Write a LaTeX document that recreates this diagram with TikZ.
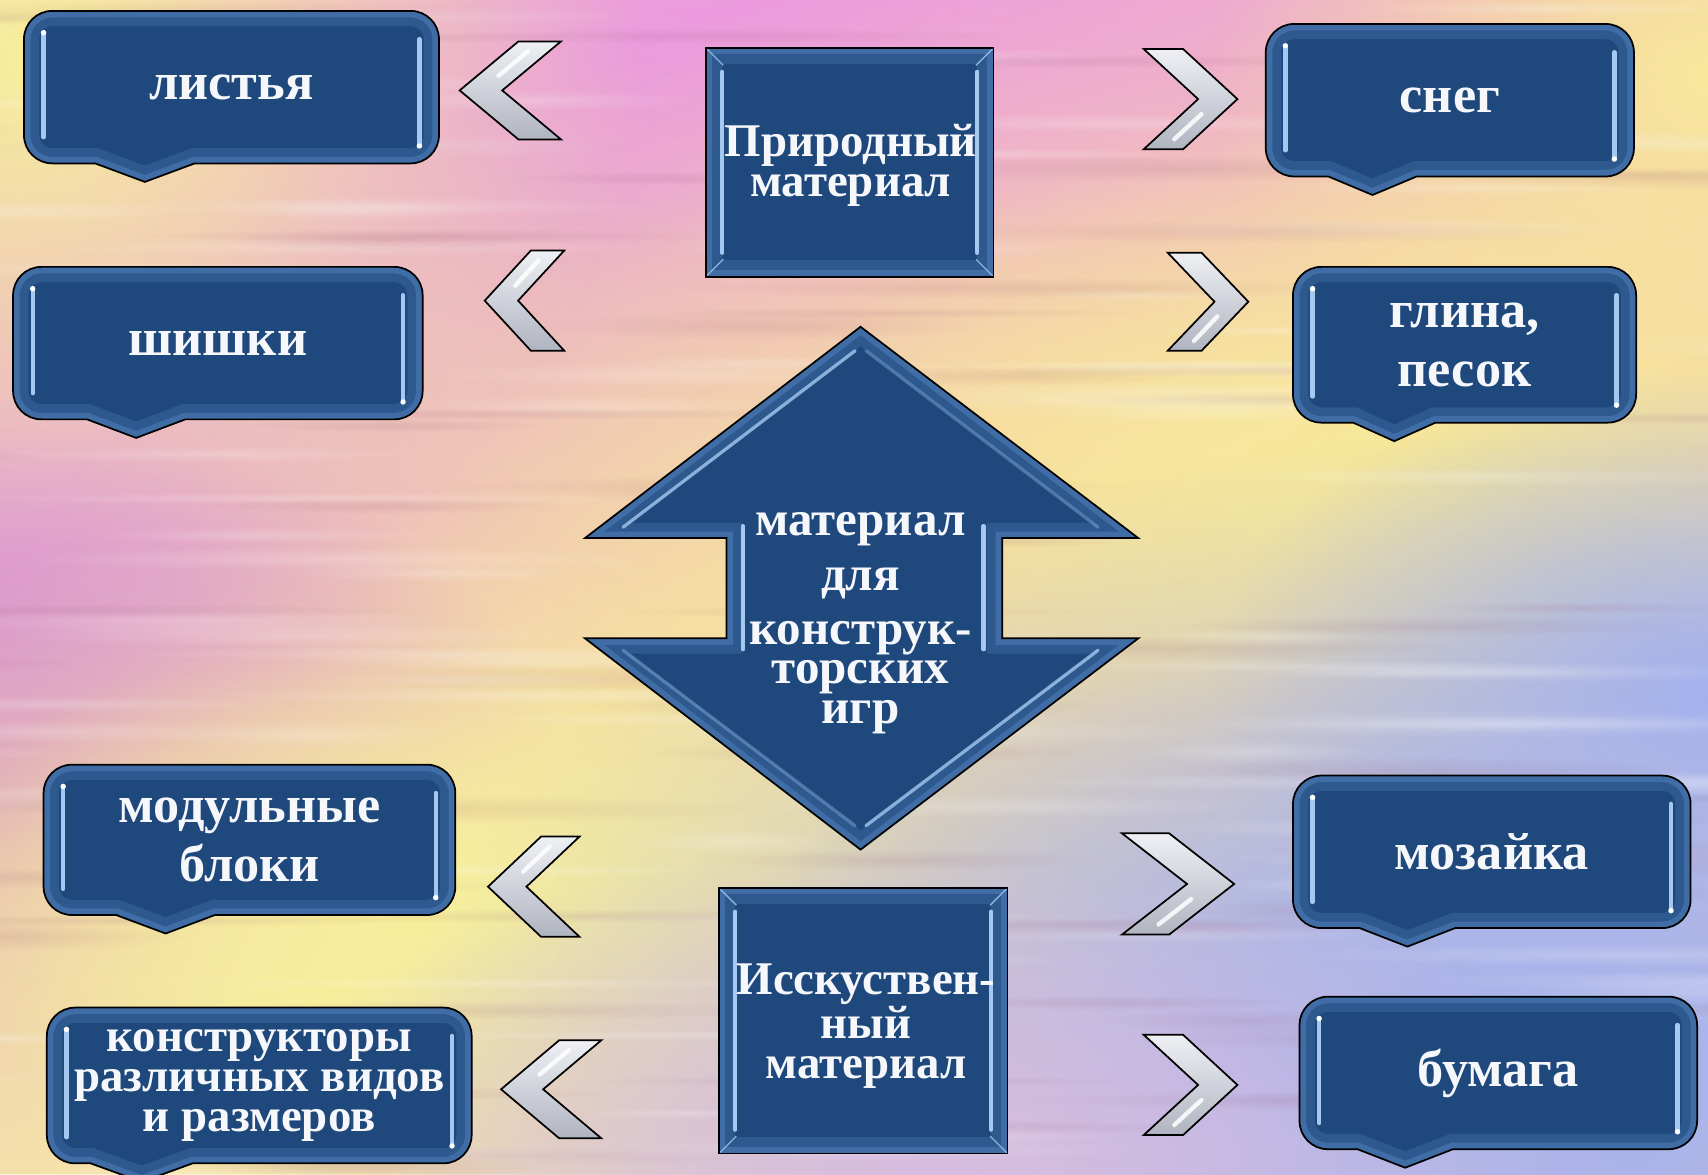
\documentclass[tikz,border=0pt]{standalone}
\usepackage{fontspec}
\setmainfont{Liberation Serif}
\usetikzlibrary{fadings}
\definecolor{cb}{HTML}{1F497D}
\definecolor{rim}{HTML}{5B8BC6}
\definecolor{hl}{HTML}{A4C8F0}
\definecolor{chA}{HTML}{EEF0F4}
\definecolor{chM}{HTML}{D2D5DC}
\definecolor{chB}{HTML}{B0B4C0}
\definecolor{txtc}{HTML}{F5F7FB}
\definecolor{bgbase}{HTML}{F2CDBE}
\definecolor{bgY}{HTML}{F8F09C}
\definecolor{bgP}{HTML}{EC98E2}
\definecolor{bgP2}{HTML}{E6A2D6}
\definecolor{bgM}{HTML}{D284D2}
\definecolor{bgY2}{HTML}{F8E89A}
\definecolor{bgB}{HTML}{9FB0F2}
\definecolor{bgB2}{HTML}{A8B4EC}
\definecolor{bgL}{HTML}{D8BCE0}
\definecolor{bgPe}{HTML}{F6DCA6}
\definecolor{bgPk}{HTML}{F4C2BA}
\tikzfading[name=blob, inner color=transparent!0, outer color=transparent!100]
\tikzset{
  cpath/.style n args={5}{insert path={({#1+26},#2) -- ({#3-26},#2) arc(270:360:26) -- (#3,{#4-26}) arc(0:90:26) -- ({#5+0.12*(#3-#1)},#4) -- (#5,{#4+17}) -- ({#5-0.12*(#3-#1)},#4) -- ({#1+26},#4) arc(90:180:26) -- (#1,{#2+26}) arc(180:270:26) -- cycle}},
  apath/.style={insert path={(790,300) -- (1045,494) -- (920,494) -- (920,586) -- (1045,586) -- (790,780) -- (537,586) -- (667,586) -- (667,494) -- (537,494) -- cycle}},
  txt/.style={text=txtc, font=\bfseries\fontsize{48}{54}\selectfont, align=center, inner sep=0pt},
  tighttxt/.style={text=txtc, font=\bfseries\fontsize{43}{37}\selectfont, align=center, inner sep=0pt},
  outline/.style={draw=black, line width=1.6pt},
  hlbar/.style={hl, line width=4pt, line cap=round},
}
\newcommand\callout[7]{%
  \fill[cb, cpath={#1}{#2}{#3}{#4}{#5}];
  \begin{scope}
    \clip[cpath={#1}{#2}{#3}{#4}{#5}];
    \draw[rim, line width=28pt, opacity=.25, cpath={#1}{#2}{#3}{#4}{#5}];
    \draw[rim, line width=12pt, opacity=.4, cpath={#1}{#2}{#3}{#4}{#5}];
  \end{scope}
  \draw[hlbar] ({#1+18},{#2+20}) -- ({#1+18},{#4-24});
  \draw[hlbar] ({#3-18},{#2+26}) -- ({#3-18},{#4-16});
  \fill[white] ({#1+18},{#2+20}) circle (2.5) ({#3-18},{#4-16}) circle (2.5);
  \path[outline, cpath={#1}{#2}{#3}{#4}{#5}];
  \node[#6] (#7) at ({(#1+#3)/2},{(#2+#4)/2})}
\newcommand\rbox[4]{%
  \fill[cb] (#1,#2) rectangle (#3,#4);
  \begin{scope}
    \clip (#1,#2) rectangle (#3,#4);
    \draw[rim, line width=30pt, opacity=.25] (#1,#2) rectangle (#3,#4);
    \draw[rim, line width=12pt, opacity=.4] (#1,#2) rectangle (#3,#4);
  \end{scope}
  \draw[hl, line width=1.2pt, opacity=.8] (#1,#2) -- ({#1+16},{#2+16}) (#3,#2) -- ({#3-16},{#2+16}) (#1,#4) -- ({#1+16},{#4-16}) (#3,#4) -- ({#3-16},{#4-16});
  \draw[hlbar] ({#1+15},{#2+22}) -- ({#1+15},{#4-22});
  \draw[hlbar] ({#3-15},{#2+22}) -- ({#3-15},{#4-22});
  \draw[outline] (#1,#2) rectangle (#3,#4);
}
\newcommand\chevL[5]{%
  \pgfmathsetmacro\chT{0.42*(#2-#1)}%
  \pgfmathsetmacro\chY{(#3+#4)/2}%
  \coordinate (#5) at ({(#1+#2)/2},\chY);
  \shadedraw[top color=chA, middle color=chM, bottom color=chB, line width=1.6pt, line join=miter]
    (#1,\chY) -- ({#2-\chT},#3) -- (#2,#3) -- ({#1+\chT},\chY) -- (#2,#4) -- ({#2-\chT},#4) -- cycle;
  \draw[white, line width=4pt, opacity=.85, line cap=round]
    ({#1+0.5*\chT+0.3*(#2-#1-\chT)},{\chY-0.3*(\chY-#3)}) -- ({#1+0.5*\chT+0.8*(#2-#1-\chT)},{\chY-0.8*(\chY-#3)});
}
\newcommand\chevR[5]{%
  \pgfmathsetmacro\chT{0.42*(#2-#1)}%
  \pgfmathsetmacro\chY{(#3+#4)/2}%
  \coordinate (#5) at ({(#1+#2)/2},\chY);
  \shadedraw[top color=chA, middle color=chM, bottom color=chB, line width=1.6pt, line join=miter]
    (#2,\chY) -- ({#1+\chT},#3) -- (#1,#3) -- ({#2-\chT},\chY) -- (#1,#4) -- ({#1+\chT},#4) -- cycle;
  \draw[white, line width=4pt, opacity=.85, line cap=round]
    ({#2-0.5*\chT-0.3*(#2-#1-\chT)},{\chY+0.3*(#4-\chY)}) -- ({#2-0.5*\chT-0.8*(#2-#1-\chT)},{\chY+0.8*(#4-\chY)});
}
\begin{document}
\begin{tikzpicture}[x=1pt, y=-1pt]
\useasboundingbox (0,0) rectangle (1568,1078);
% ---------- background ----------
\begin{scope}
  \clip (0,0) rectangle (1568,1078);
  \fill[bgbase] (0,0) rectangle (1568,1078);
  \foreach \cx/\cy/\rx/\ry/\col in {
      1230/160/380/200/bgPk, 700/170/750/330/bgP, 680/120/420/180/bgP,
      200/460/480/300/bgP2, 120/430/300/200/bgP2,
      720/630/360/230/bgPe, 1200/460/520/260/bgY2, 1300/420/300/160/bgY2,
      30/50/280/260/bgY, 1568/70/230/190/bgY2, 0/730/260/170/bgM,
      330/940/430/230/bgY, 400/820/250/120/bgY,
      1568/640/230/150/bgB, 1400/1000/520/300/bgB2, 1380/960/360/200/bgB2,
      850/1060/320/140/bgL}
  {
    \fill[\col, path fading=blob] ({\cx-2*\rx},{\cy-2*\ry}) rectangle ({\cx+2*\rx},{\cy+2*\ry});
  }
  \pgfmathsetseed{11}
  \foreach \k in {1,...,90}{
    \pgfmathsetmacro\sy{rnd*1078}
    \pgfmathsetmacro\sx{rnd*1700-250}
    \pgfmathsetmacro\sl{200+rnd*500}
    \pgfmathsetmacro\sw{10+rnd*18}
    \fill[white, opacity=.22, path fading=blob] (\sx,\sy) rectangle ({\sx+\sl},{\sy+\sw});
  }
  \foreach \k in {1,...,70}{
    \pgfmathsetmacro\sy{rnd*1078}
    \pgfmathsetmacro\sx{rnd*1700-250}
    \pgfmathsetmacro\sl{200+rnd*500}
    \pgfmathsetmacro\sw{10+rnd*16}
    \fill[black!50!magenta, opacity=.12, path fading=blob] (\sx,\sy) rectangle ({\sx+\sl},{\sy+\sw});
  }
\end{scope}
% ---------- chevrons ----------
\chevL{422}{515}{38}{128}{c1}
\chevL{445}{518}{230}{322}{c2}
\chevL{448}{532}{768}{860}{c3}
\chevL{460}{552}{955}{1045}{c4}
\chevR{1050}{1136}{45}{137}{c5}
\chevR{1072}{1146}{232}{322}{c6}
\chevR{1030}{1133}{765}{858}{c7}
\chevR{1050}{1136}{950}{1042}{c8}
% ---------- callouts ----------
\callout{22}{10}{403}{150}{133}{txt}{leaves} {листья};
\callout{12}{245}{388}{385}{125}{txt}{cones} {шишки};
\callout{1162}{22}{1500}{162}{1260}{txt}{snow} {снег};
\callout{1187}{245}{1502}{388}{1280}{txt}{clay} {глина,\\песок};
\callout{40}{702}{418}{840}{152}{txt}{blocks} {модульные\\блоки};
\callout{43}{925}{433}{1068}{130}{tighttxt}{kits} {конструкторы\\различных видов\\и размеров};
\callout{1187}{712}{1552}{852}{1292}{txt}{mosaic} {мозайка};
\callout{1193}{915}{1558}{1055}{1290}{txt}{paper} {бумага};
% ---------- rectangles ----------
\rbox{648}{44}{912}{254}
\node[tighttxt] (natural) at (781,152) {Природный\\материал};
\rbox{660}{815}{925}{1059}
\node[tighttxt] (artificial) at (795,942) {Исскуствен-\\ный\\материал};
% ---------- central double arrow ----------
\fill[cb, apath];
\begin{scope}
  \clip[apath];
  \draw[rim, line width=28pt, opacity=.25, apath];
  \draw[rim, line width=12pt, opacity=.4, apath];
\end{scope}
\draw[hl, line width=3pt, opacity=.8, line cap=round] (785,322) -- (572,484);
\draw[hl, line width=3pt, opacity=.35, line cap=round] (795,322) -- (1008,484);
\draw[hl, line width=3pt, opacity=.8, line cap=round] (1008,597) -- (795,758);
\draw[hl, line width=3pt, opacity=.35, line cap=round] (572,597) -- (785,758);
\draw[hlbar] (682,483) -- (682,596);
\draw[hlbar] (903,483) -- (903,596);
\path[outline, apath];
\node[text=txtc, font=\bfseries\fontsize{45}{36}\selectfont, align=center, inner sep=0pt] (center) at (790,572)
  {материал\\[14pt]для\\[14pt]конструк-\\торских\\игр};
\end{tikzpicture}
\end{document}
